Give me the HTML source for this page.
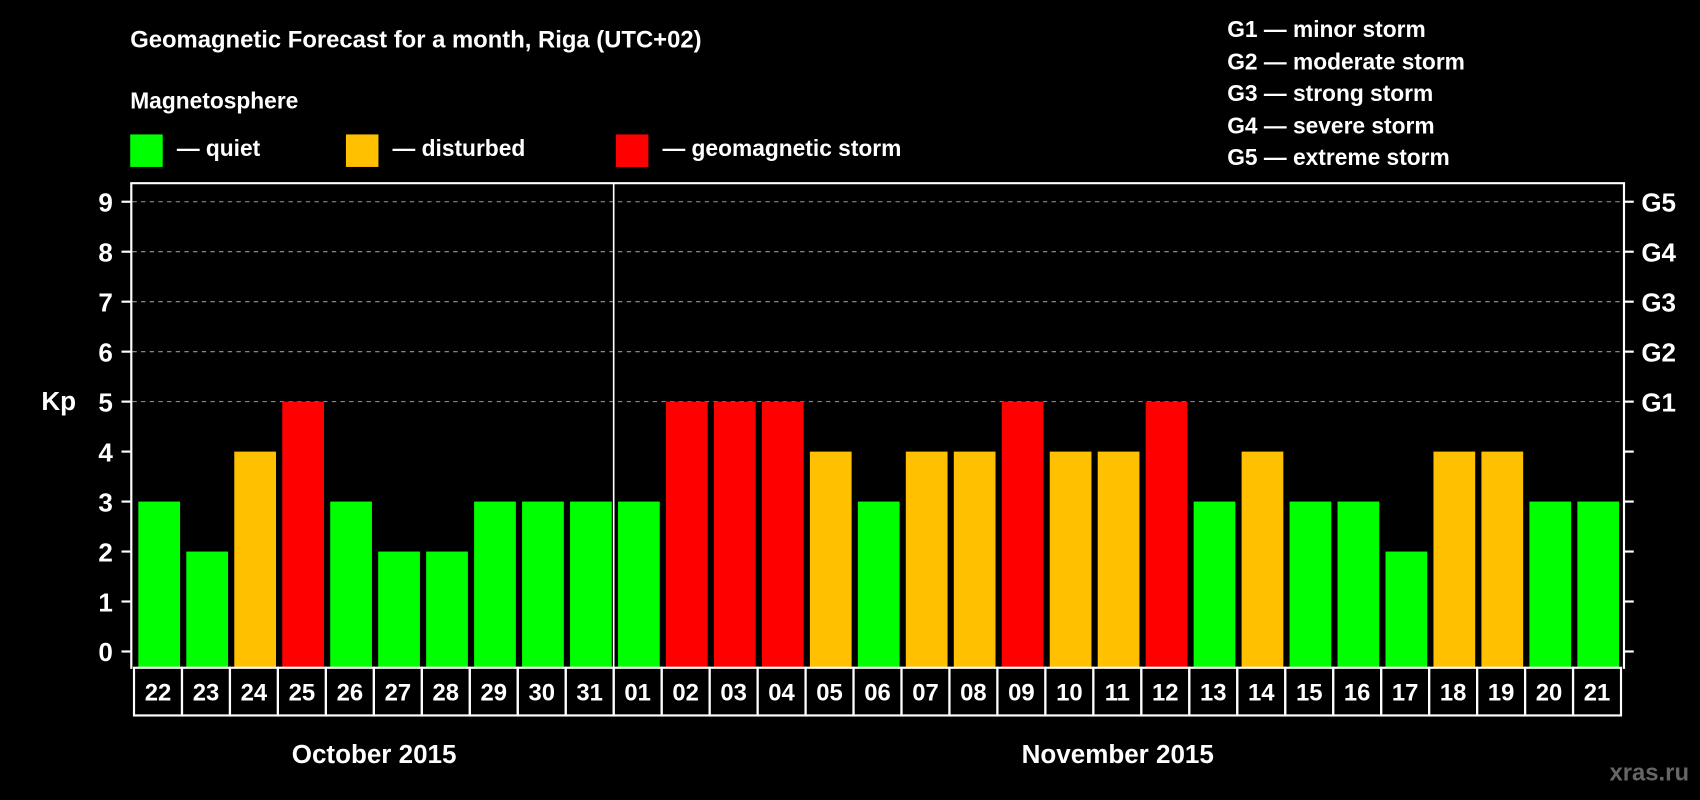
<!DOCTYPE html>
<html><head><meta charset="utf-8"><style>
html,body{margin:0;padding:0;background:#000;width:1700px;height:800px;overflow:hidden}
svg{display:block}
text{font-family:"Liberation Sans",sans-serif;font-weight:bold;fill:#fff}
</style></head><body>
<svg id="chart" width="1700" height="800" viewBox="0 0 1568 738" xmlns="http://www.w3.org/2000/svg">
<rect width="1568" height="738" fill="#000"/>
<text x="120" y="44" font-size="22">Geomagnetic Forecast for a month, Riga (UTC+02)</text>
<text x="120" y="100" font-size="21">Magnetosphere</text>
<g>
<rect x="120" y="124" width="30" height="30" fill="#00ff00"/>
<text x="163" y="144" font-size="21">— quiet</text>
<rect x="319" y="124" width="30" height="30" fill="#ffc000"/>
<text x="362" y="144" font-size="21">— disturbed</text>
<rect x="568" y="124" width="30" height="30" fill="#ff0000"/>
<text x="611" y="144" font-size="21">— geomagnetic storm</text>
</g>
<g font-size="21">
<text x="1132" y="34">G1 — minor storm</text>
<text x="1132" y="64">G2 — moderate storm</text>
<text x="1132" y="93">G3 — strong storm</text>
<text x="1132" y="123">G4 — severe storm</text>
<text x="1132" y="152">G5 — extreme storm</text>
</g>
<text x="38" y="378" font-size="24">Kp</text>
<text x="345" y="704" font-size="24" text-anchor="middle">October 2015</text>
<text x="1031" y="704" font-size="24" text-anchor="middle">November 2015</text>
<text x="1558" y="720" font-size="22" text-anchor="end" fill="#666" style="fill:#666">xras.ru</text>
<g id="grid"></g><g id="bars"></g><g id="axes"></g>
</svg>
<script>
const days=["22","23","24","25","26","27","28","29","30","31","01","02","03","04","05","06","07","08","09","10","11","12","13","14","15","16","17","18","19","20","21"];
const kp=[3,2,4,5,3,2,2,3,3,3,3,5,5,5,4,3,4,4,5,4,4,5,3,4,3,3,2,4,4,3,3];
const yTicks=[0,1,2,3,4,5,6,7,8,9];
const gLabels=["G1","G2","G3","G4","G5"];
const NS="http://www.w3.org/2000/svg";
const x0=123.5,slot=44.25,y0=601,unit=46.1;
const X=i=>x0+i*slot, Y=v=>y0-v*unit;
const color=v=>v>=5?"#ff0000":v>=4?"#ffc000":"#00ff00";
function mk(t,a,p){const e=document.createElementNS(NS,t);for(const k in a)e.setAttribute(k,a[k]);p.appendChild(e);return e;}
const grid=document.getElementById('grid'),bars=document.getElementById('bars'),axes=document.getElementById('axes');
for(let v=5;v<=9;v++){const l=mk('line',{x1:122,x2:1497,y1:Y(v),y2:Y(v),stroke:'#999','stroke-width':1,'stroke-dasharray':'4,4'},grid);

}
kp.forEach((v,i)=>{const r=mk('rect',{x:X(i)+4,y:Y(v),width:38.5,height:616-Y(v),fill:color(v)},bars);

});
const la=mk('line',{x1:121,x2:121,y1:169,y2:617,stroke:'#fff','stroke-width':2},axes);


const ra=mk('line',{x1:1498,x2:1498,y1:169,y2:617,stroke:'#fff','stroke-width':2},axes);


const ta=mk('line',{x1:120,x2:1499,y1:169,y2:169,stroke:'#fff','stroke-width':2},axes);


const dv=mk('line',{x1:X(10),x2:X(10),y1:169,y2:616,stroke:'#fff','stroke-width':1.5},axes);


yTicks.forEach(v=>{
const t1=mk('line',{x1:112,x2:121,y1:Y(v),y2:Y(v),stroke:'#fff','stroke-width':2},axes);


const t2=mk('line',{x1:1498,x2:1507,y1:Y(v),y2:Y(v),stroke:'#fff','stroke-width':2},axes);


const tx=mk('text',{x:104,y:Y(v)+9,'font-size':24,'text-anchor':'end'},axes);tx.textContent=v;


});
gLabels.forEach((g,i)=>{const tx=mk('text',{x:1514,y:Y(5+i)+9,'font-size':24},axes);tx.textContent=g;

});
days.forEach((d,i)=>{
const r=mk('rect',{x:X(i),y:616,width:slot,height:44,fill:'none',stroke:'#fff','stroke-width':2},axes);


const tx=mk('text',{x:X(i)+slot/2,y:646,'font-size':22,'text-anchor':'middle'},axes);tx.textContent=d;


});
</script>
</body></html>
